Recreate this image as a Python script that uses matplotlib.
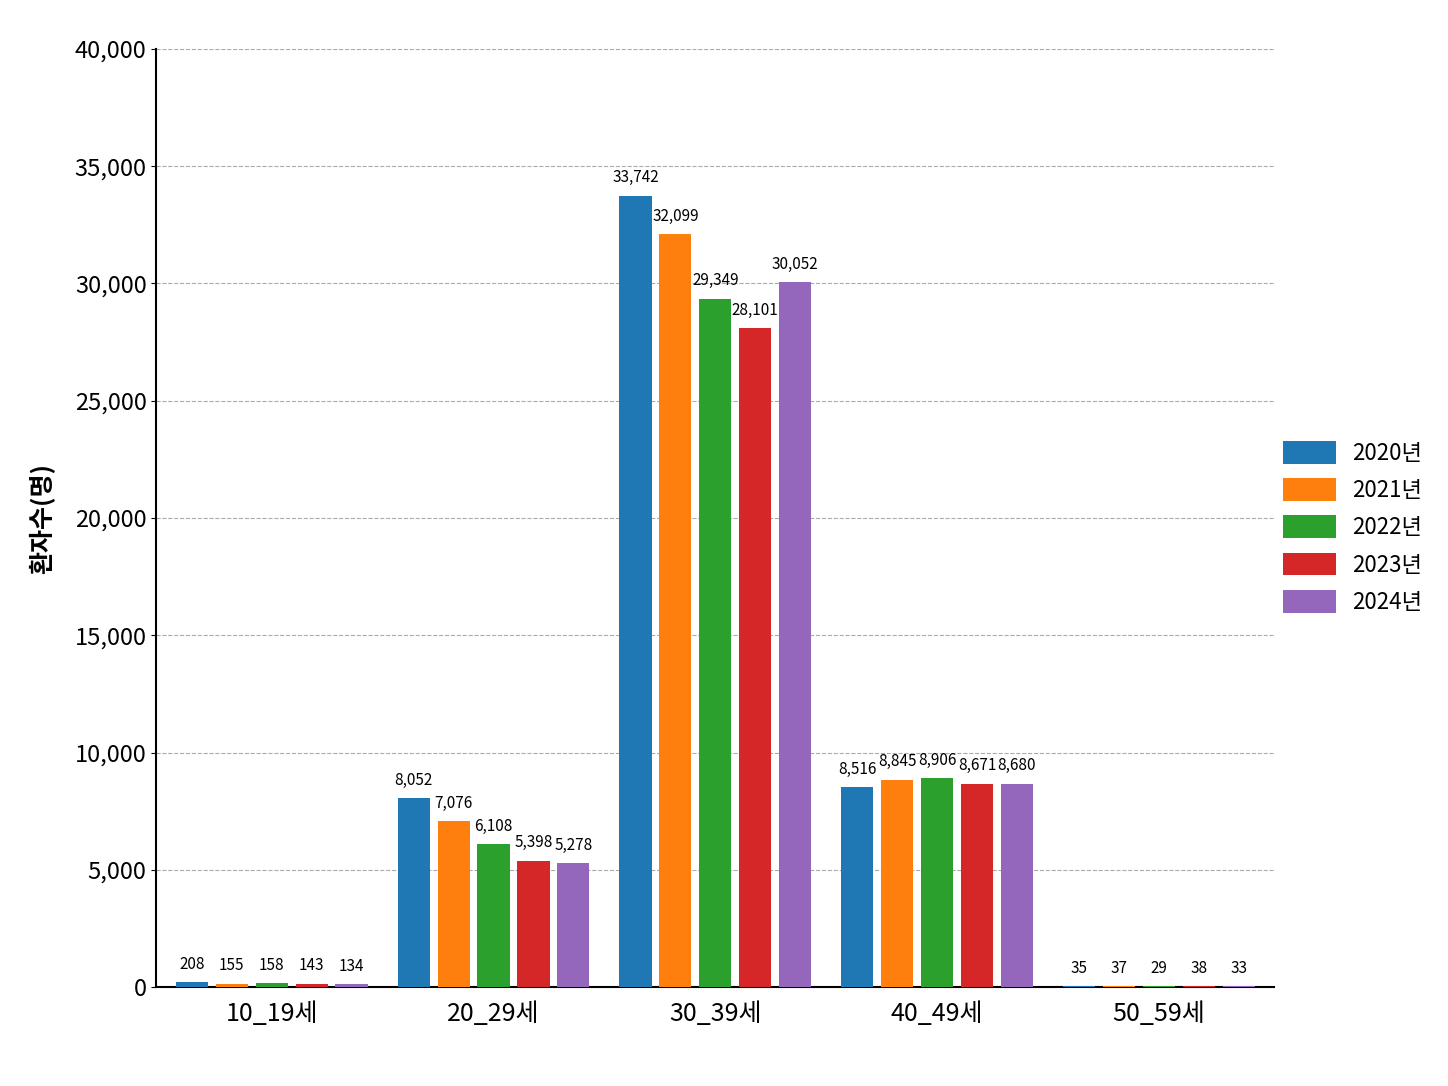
import matplotlib
matplotlib.use("Agg")
import matplotlib.pyplot as plt
import numpy as np

plt.rcParams['font.family'] = ['Noto Sans CJK KR', 'DejaVu Sans']

groups = ["10_19세", "20_29세", "30_39세", "40_49세", "50_59세"]
years = ["2020년", "2021년", "2022년", "2023년", "2024년"]
colors = ["#1f77b4", "#ff7f0e", "#2ca02c", "#d62728", "#9467bd"]
v2020 = [208, 8052, 33742, 8516, 35]
v2021 = [155, 7076, 32099, 8845, 37]
v2022 = [158, 6108, 29349, 8906, 29]
v2023 = [143, 5398, 28101, 8671, 38]
v2024 = [134, 5278, 30052, 8680, 33]
series = [v2020, v2021, v2022, v2023, v2024]

fig = plt.figure(figsize=(14.48, 10.86), dpi=100)
ax = fig.add_axes([0.108, 0.091, 0.772, 0.864])
x = np.arange(len(groups))
step, w = 0.18, 0.145
for i, (vals, c, lab) in enumerate(zip(series, colors, years)):
    xs = x + (i - 2) * step
    ax.bar(xs, vals, width=w, color=c, label=lab, zorder=3)
    for xx, v in zip(xs, vals):
        ax.text(xx, v + 400, f"{v:,}", ha="center", va="bottom", fontsize=11)

ax.set_xlim(-0.52, 4.52)
ax.set_ylim(0, 40000)
ax.set_yticks(range(0, 40001, 5000))
ax.set_yticklabels([f"{t:,}" for t in range(0, 40001, 5000)], fontsize=17, fontweight="medium")
ax.set_xticks(x)
ax.set_xticklabels(groups, fontsize=18, fontweight="medium")
ax.set_ylabel("환자수(명)", fontsize=18, fontweight="bold", labelpad=14)
ax.yaxis.grid(True, linestyle="--", color="#aaaaaa", lw=0.8, zorder=0)
for s in ("top", "right"):
    ax.spines[s].set_visible(False)
ax.spines["left"].set_linewidth(1.5)
ax.spines["bottom"].set_linewidth(1.5)
ax.tick_params(axis="x", length=0, pad=10)
ax.legend(loc="center left", bbox_to_anchor=(0.99, 0.49), frameon=False,
          fontsize=16, handlelength=2.4, handleheight=1.2, labelspacing=0.6,
          handletextpad=0.7)
fig.savefig("out.png", dpi=100)
